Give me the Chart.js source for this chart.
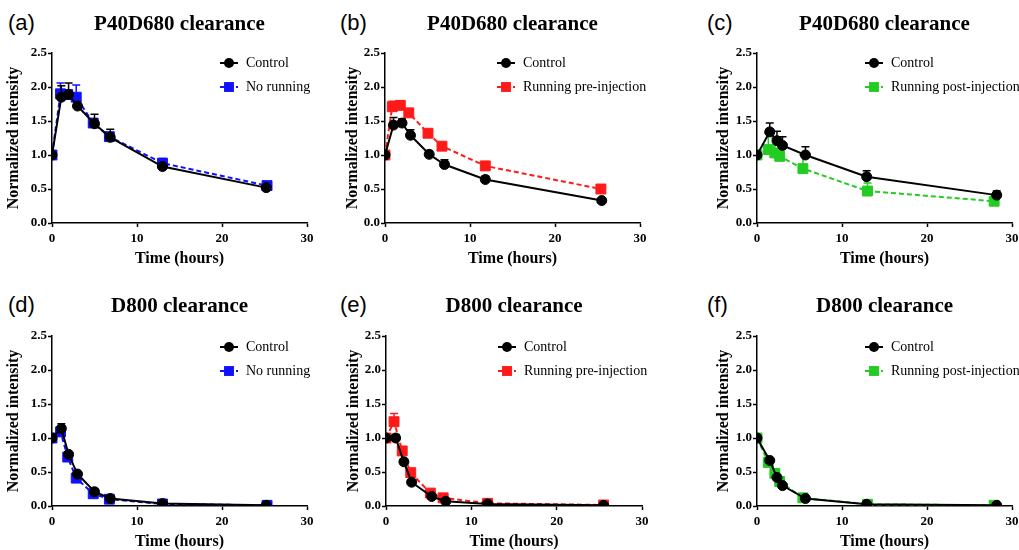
<!DOCTYPE html>
<html><head><meta charset="utf-8">
<script src="https://cdn.jsdelivr.net/npm/chart.js@4.4.1/dist/chart.umd.min.js"></script>
<style>
html,body{margin:0;padding:0;background:#fff;width:1019px;height:550px;overflow:hidden;position:relative;}
canvas{position:absolute;}
.lbl{position:absolute;font-family:"Liberation Sans",Arial,sans-serif;font-size:22px;line-height:22px;color:#000;white-space:nowrap;}
</style></head><body>
<div class="lbl" style="left:8px;top:12px">(a)</div>
<div class="lbl" style="left:340px;top:12px">(b)</div>
<div class="lbl" style="left:707px;top:12px">(c)</div>
<div class="lbl" style="left:8px;top:294px">(d)</div>
<div class="lbl" style="left:340px;top:294px">(e)</div>
<div class="lbl" style="left:707px;top:294px">(f)</div>
<canvas id="ca" width="319" height="268" style="left:0px;top:0px"></canvas>
<canvas id="cb" width="312" height="268" style="left:340px;top:0px"></canvas>
<canvas id="cc" width="312" height="268" style="left:712px;top:0px"></canvas>
<canvas id="cd" width="319" height="268" style="left:0px;top:283px"></canvas>
<canvas id="ce" width="313" height="268" style="left:341px;top:283px"></canvas>
<canvas id="cf" width="312" height="268" style="left:712px;top:283px"></canvas>
<script>
// ---------- data ----------
const titleP40 = 'P40D680 clearance';
const titleD800 = 'D800 clearance';
const xTicks = [0, 10, 20, 30];
const yTicks = [0, 0.5, 1.0, 1.5, 2.0, 2.5];

// (a)
const aCtrlT = [0, 1.1, 1.95, 3.0, 5.0, 6.85, 13.0, 25.2];
const aCtrlV = [1.0, 1.85, 1.89, 1.72, 1.46, 1.26, 0.83, 0.52];
const aCtrlE = [0, 0.17, 0.17, 0.04, 0.14, 0.12, 0.04, 0.03];
const aNrT = [0, 1.0, 1.85, 2.85, 4.85, 6.75, 13.0, 25.3];
const aNrV = [1.0, 1.90, 1.89, 1.85, 1.47, 1.27, 0.88, 0.55];
const aNrE = [0, 0.16, 0.03, 0.18, 0.05, 0.05, 0.07, 0.04];
// (b)
const bCtrlT = [0, 1.0, 2.0, 3.0, 5.2, 7.0, 11.8, 25.5];
const bCtrlV = [1.0, 1.44, 1.47, 1.29, 1.01, 0.86, 0.64, 0.33];
const bCtrlE = [0, 0.11, 0.06, 0.08, 0.05, 0.07, 0.05, 0.02];
const bPreT = [0, 0.86, 1.8, 2.8, 5.06, 6.7, 11.8, 25.4];
const bPreV = [1.0, 1.71, 1.73, 1.62, 1.32, 1.13, 0.84, 0.50];
const bPreE = [0, 0.08, 0.06, 0.05, 0.03, 0.02, 0.03, 0.02];
// (c)
const cCtrlT = [0, 1.5, 2.35, 3.0, 5.7, 12.9, 28.2];
const cCtrlV = [1.0, 1.34, 1.21, 1.14, 1.00, 0.68, 0.41];
const cCtrlE = [0, 0.13, 0.14, 0.13, 0.12, 0.09, 0.06];
const cPostT = [0, 1.33, 2.1, 2.67, 5.4, 13.0, 27.9];
const cPostV = [1.0, 1.08, 1.03, 0.98, 0.80, 0.47, 0.32];
const cPostE = [0, 0.24, 0.22, 0.10, 0.20, 0.12, 0.03];
// (d)
const dCtrlT = [0, 1.1, 1.95, 3.0, 5.0, 6.85, 13.0, 25.2];
const dCtrlV = [1.0, 1.14, 0.76, 0.47, 0.21, 0.11, 0.035, 0.01];
const dCtrlE = [0, 0.07, 0.03, 0.03, 0.02, 0.02, 0.01, 0.005];
const dNrT = [0, 1.0, 1.85, 2.85, 4.85, 6.75, 13.0, 25.3];
const dNrV = [1.0, 1.09, 0.72, 0.41, 0.18, 0.10, 0.03, 0.01];
const dNrE = [0, 0.03, 0.02, 0.02, 0.02, 0.01, 0.01, 0];
// (e)
const eCtrlT = [0, 1.13, 2.1, 3.0, 5.36, 7.0, 11.9, 25.5];
const eCtrlV = [1.0, 1.0, 0.65, 0.35, 0.14, 0.07, 0.03, 0.01];
const eCtrlE = [0, 0.05, 0.02, 0.02, 0.02, 0.01, 0.01, 0];
const ePreT = [0, 0.94, 1.9, 2.9, 5.2, 6.7, 11.9, 25.5];
const ePreV = [1.0, 1.24, 0.81, 0.49, 0.19, 0.12, 0.04, 0.015];
const ePreE = [0, 0.12, 0.04, 0.03, 0.02, 0.02, 0.01, 0];
// (f)
const fCtrlT = [0, 1.5, 2.35, 3.0, 5.7, 12.9, 28.2];
const fCtrlV = [1.0, 0.67, 0.42, 0.30, 0.11, 0.025, 0.01];
const fCtrlE = [0, 0.03, 0.03, 0.02, 0.01, 0.005, 0];
const fPostT = [0, 1.33, 2.1, 2.67, 5.4, 13.0, 27.9];
const fPostV = [1.0, 0.64, 0.48, 0.36, 0.12, 0.025, 0.01];
const fPostE = [0, 0.04, 0.03, 0.02, 0.01, 0.005, 0];

// ---------- styling ----------
const SERIF = '"Liberation Serif","Times New Roman",serif';
const BLUE = '#1010ff', RED = '#ff1a1a', GREEN = '#22cc22';

const toXY = (xs, ys) => xs.map((x, i) => ({x: x, y: ys[i]}));

const errorBars = {
  id: 'errorBars',
  beforeDatasetDraw(chart, args) {
    const ds = chart.data.datasets[args.index];
    if (!ds.err) return;
    const ctx = chart.ctx, xs = chart.scales.x, ys = chart.scales.y;
    ctx.save();
    ctx.strokeStyle = ds.borderColor;
    ctx.lineWidth = 1.5;
    ctx.setLineDash([]);
    ds.data.forEach((p, i) => {
      const e = ds.err[i];
      if (!e) return;
      const px = xs.getPixelForValue(p.x);
      const py = ys.getPixelForValue(p.y);
      const pt = ys.getPixelForValue(p.y + e);
      ctx.beginPath();
      ctx.moveTo(px, py); ctx.lineTo(px, pt);
      ctx.moveTo(px - 4, pt); ctx.lineTo(px + 4, pt);
      ctx.stroke();
    });
    ctx.restore();
  }
};

const insideLegend = {
  id: 'insideLegend',
  afterDraw(chart, args, opts) {
    const ca = chart.chartArea, ctx = chart.ctx;
    chart.data.datasets.forEach((ds, i) => {
      const y = ca.top + opts.y0 + i * opts.dy;
      const x1 = ca.left + opts.x, x2 = x1 + 18;
      ctx.save();
      ctx.strokeStyle = ds.borderColor;
      ctx.lineWidth = 2;
      ctx.setLineDash(ds.borderDash || []);
      ctx.beginPath(); ctx.moveTo(x1, y); ctx.lineTo(x2, y); ctx.stroke();
      ctx.setLineDash([]);
      ctx.fillStyle = ds.backgroundColor;
      Chart.helpers.drawPoint(ctx, {pointStyle: ds.pointStyle, radius: ds.pointRadius, rotation: 0, borderWidth: 0}, (x1 + x2) / 2, y);
      ctx.fillStyle = '#000';
      ctx.font = '14px ' + SERIF;
      ctx.textBaseline = 'middle';
      ctx.textAlign = 'left';
      ctx.fillText(ds.label, ca.left + opts.tx, y);
      ctx.restore();
    });
  }
};

function makePanel(id, p) {
  const axisFont = {family: SERIF, size: 13, weight: 'bold'};
  new Chart(document.getElementById(id), {
    type: 'line',
    data: {
      datasets: [
        {label: 'Control', data: toXY(p.ct, p.cv), err: p.ce,
         borderColor: '#000', backgroundColor: '#000', borderWidth: 2,
         pointStyle: 'circle', pointRadius: 5, pointBorderWidth: 1, tension: 0},
        {label: p.label, data: toXY(p.ot, p.ov), err: p.oe,
         borderColor: p.color, backgroundColor: p.color, borderWidth: 2, borderDash: [5, 3],
         pointStyle: 'rect', pointRadius: 7, pointBorderWidth: 1, tension: 0}
      ]
    },
    options: {
      responsive: false, animation: false, devicePixelRatio: 1,
      layout: {padding: {top: 0, right: 12, bottom: 0, left: 0}},
      plugins: {
        legend: {display: false},
        tooltip: {enabled: false},
        title: {display: true, text: p.title, fullSize: false, color: '#000',
                font: {family: SERIF, size: 21, weight: 'bold', lineHeight: 1},
                padding: {top: p.tpT, bottom: p.tpB}},
        insideLegend: {x: p.lx, tx: p.lx + 26, y0: p.ly, dy: 24}
      },
      scales: {
        x: {type: 'linear', min: 0, max: 30,
            afterBuildTicks: s => { s.ticks = xTicks.map(v => ({value: v})); },
            ticks: {font: axisFont, color: '#000', padding: 4, maxRotation: 0, autoSkip: false},
            grid: {drawOnChartArea: false, drawTicks: true, tickLength: 4, tickColor: '#000', tickWidth: 1.5},
            border: {color: '#000', width: 1.5},
            title: {display: true, text: 'Time (hours)', color: '#000',
                    font: {family: SERIF, size: 16, weight: 'bold'}, padding: 0},
            afterFit: s => { s.height = 45; }},
        y: {type: 'linear', min: 0, max: 2.5,
            afterBuildTicks: s => { s.ticks = yTicks.map(v => ({value: v})); },
            ticks: {font: axisFont, color: '#000', padding: 1, autoSkip: false,
                    callback: v => Number(v).toFixed(1)},
            grid: {drawOnChartArea: false, drawTicks: true, tickLength: 4, tickColor: '#000', tickWidth: 1.5},
            border: {color: '#000', width: 1.5},
            title: {display: true, text: 'Normalized intensity', color: '#000',
                    font: {family: SERIF, size: 16, weight: 'bold'}, padding: {top: p.ytp, bottom: 0}},
            afterFit: s => { s.width = p.yW; }}
      }
    },
    plugins: [errorBars, insideLegend]
  });
}

makePanel('ca', {title: titleP40, ct: aCtrlT, cv: aCtrlV, ce: aCtrlE, ot: aNrT, ov: aNrV, oe: aNrE,
  label: 'No running', color: BLUE, yW: 52, ytp: 4.4, tpT: 14.5, tpB: 17.5, lx: 168, ly: 10});
makePanel('cb', {title: titleP40, ct: bCtrlT, cv: bCtrlV, ce: bCtrlE, ot: bPreT, ov: bPreV, oe: bPreE,
  label: 'Running pre-injection', color: RED, yW: 45, ytp: 3, tpT: 14.5, tpB: 17.5, lx: 112, ly: 10});
makePanel('cc', {title: titleP40, ct: cCtrlT, cv: cCtrlV, ce: cCtrlE, ot: cPostT, ov: cPostV, oe: cPostE,
  label: 'Running post-injection', color: GREEN, yW: 45, ytp: 2.4, tpT: 14.5, tpB: 17.5, lx: 108, ly: 10});
makePanel('cd', {title: titleD800, ct: dCtrlT, cv: dCtrlV, ce: dCtrlE, ot: dNrT, ov: dNrV, oe: dNrE,
  label: 'No running', color: BLUE, yW: 52, ytp: 4.4, tpT: 13.5, tpB: 18.5, lx: 168, ly: 11});
makePanel('ce', {title: titleD800, ct: eCtrlT, cv: eCtrlV, ce: eCtrlE, ot: ePreT, ov: ePreV, oe: ePreE,
  label: 'Running pre-injection', color: RED, yW: 45, ytp: 3, tpT: 13.5, tpB: 18.5, lx: 112, ly: 11});
makePanel('cf', {title: titleD800, ct: fCtrlT, cv: fCtrlV, ce: fCtrlE, ot: fPostT, ov: fPostV, oe: fPostE,
  label: 'Running post-injection', color: GREEN, yW: 45, ytp: 2.4, tpT: 13.5, tpB: 18.5, lx: 108, ly: 11});
</script>
</body></html>
